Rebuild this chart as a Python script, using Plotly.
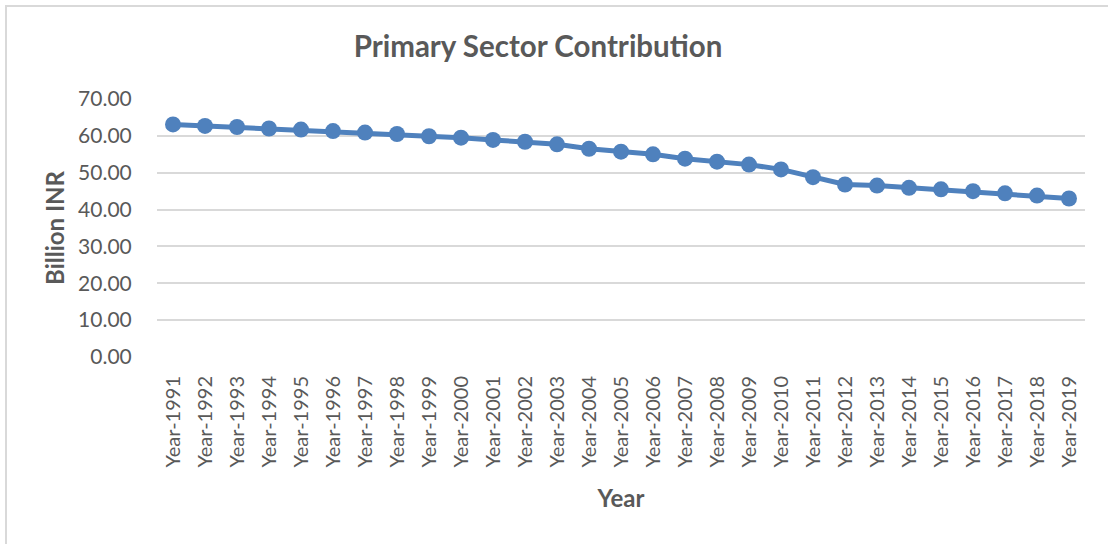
import plotly.graph_objects as go

# Primary sector contribution by year (Billion INR)
years = [f"Year-{y}" for y in range(1991, 2020)]
values = [63.1, 62.7, 62.4, 62.0, 61.7, 61.3, 60.9, 60.5, 59.9, 59.5,
          58.9, 58.4, 57.7, 56.5, 55.7, 55.0, 53.8, 53.0, 52.2, 50.9,
          48.8, 46.8, 46.5, 45.9, 45.5, 45.0, 44.4, 43.8, 43.0]
y_ticks = [0, 10, 20, 30, 40, 50, 60, 70]

W, H = 1108, 544
L, R, T, B = 157, 23, 99, 187
FONT = "Lato, Carlito, Calibri, sans-serif"
TEXT = "#595959"
BLUE = "#4F81BD"
GRID = "#D9D9D9"

fig = go.Figure(
    go.Scatter(
        x=years, y=values, mode="lines+markers",
        line=dict(color=BLUE, width=5),
        marker=dict(color=BLUE, size=16),
        cliponaxis=False,
    )
)

pw = W - L - R
ph = H - T - B

def px_x(x):
    return (x - L) / pw

def px_y(y):
    return (H - B - y) / ph

fig.update_layout(
    width=W, height=H,
    margin=dict(l=L, r=R, t=T, b=B, autoexpand=False),
    paper_bgcolor="white", plot_bgcolor="white",
    showlegend=False,
    font=dict(family=FONT, color=TEXT, size=20),
    title=dict(
        text="<b>Primary Sector Contribution</b>",
        x=538 / W, xanchor="center", xref="container",
        y=1 - 47 / H, yanchor="middle", yref="container",
        font=dict(size=29.5, color=TEXT, family=FONT),
    ),
    shapes=[
        dict(type="rect", xref="paper", yref="paper",
             x0=px_x(6), x1=px_x(W + 20), y0=px_y(6), y1=px_y(H + 20),
             line=dict(color=GRID, width=2), fillcolor="rgba(0,0,0,0)",
             layer="below"),
    ],
)

fig.update_xaxes(
    type="category",
    range=[-0.5, len(years) - 0.5],
    tickangle=-90,
    ticks="outside", ticklen=10, tickcolor="rgba(0,0,0,0)",
    showgrid=False, zeroline=False, showline=False,
    tickfont=dict(size=20, color=TEXT),
    title=dict(text="<b>Year</b>", font=dict(size=24, color=TEXT), standoff=23),
)

fig.update_yaxes(
    range=[0, 70],
    tickvals=y_ticks,
    ticktext=[f"{v:.2f}" for v in y_ticks],
    showgrid=True, gridcolor=GRID, gridwidth=1.5,
    zeroline=False, showline=False,
    ticks="outside", ticklen=20, tickcolor="rgba(0,0,0,0)",
    tickfont=dict(size=21, color=TEXT),
    title=dict(text="<b>Billion INR</b>", font=dict(size=24, color=TEXT), standoff=6),
)

fig.write_html("out.html")
